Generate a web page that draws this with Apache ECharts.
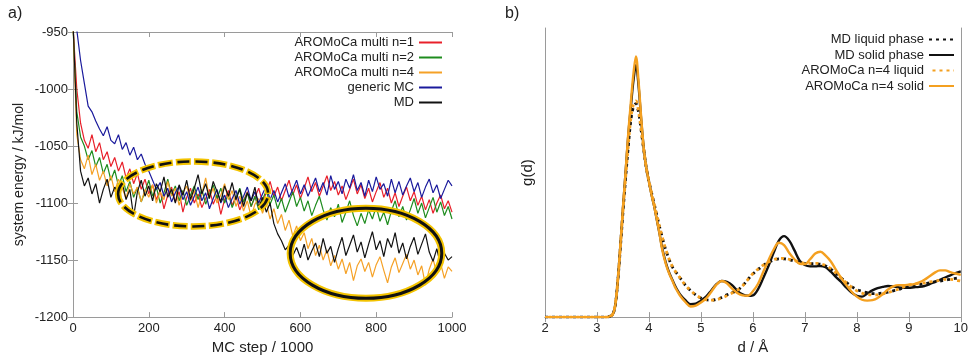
<!DOCTYPE html>
<html><head><meta charset="utf-8">
<script src="https://cdn.jsdelivr.net/npm/echarts@6/dist/echarts.min.js"></script>
<style>html,body{margin:0;padding:0;background:#fff}#c{width:971px;height:360px}</style>
</head><body><div id="c"></div>
<script>
// ---------- panel a) ----------
const mcStep = [0,10,20,30,40,50,60,70,80,90,
100,110,120,130,140,150,160,170,180,190,
200,210,220,230,240,250,260,270,280,290,
300,310,320,330,340,350,360,370,380,390,
400,410,420,430,440,450,460,470,480,490,
500,510,520,530,540,550,560,570,580,590,
600,610,620,630,640,650,660,670,680,690,
700,710,720,730,740,750,760,770,780,790,
800,810,820,830,840,850,860,870,880,890,
900,910,920,930,940,950,960,970,980,990,1000];

const eMulti1 = [-945,-1000,-1030,-1045,-1052,-1040,-1055,-1047,-1062,-1055,
-1068,-1060,-1072,-1064,-1078,-1070,-1083,-1074,-1088,-1079,
-1092,-1084,-1097,-1089,-1105,-1093,-1086,-1099,-1090,-1108,
-1095,-1087,-1100,-1092,-1104,-1096,-1088,-1101,-1093,-1110,
-1097,-1089,-1102,-1094,-1106,-1098,-1090,-1103,-1095,-1087,
-1099,-1091,-1081,-1094,-1086,-1098,-1089,-1080,-1093,-1084,
-1096,-1087,-1077,-1090,-1082,-1094,-1085,-1076,-1089,-1081,
-1093,-1085,-1097,-1088,-1079,-1092,-1084,-1096,-1087,-1099,
-1090,-1082,-1095,-1087,-1100,-1091,-1103,-1094,-1086,-1098,
-1090,-1102,-1094,-1106,-1097,-1109,-1100,-1093,-1105,-1098,-1108];

const eMulti2 = [-945,-1020,-1042,-1050,-1062,-1054,-1068,-1060,-1074,-1066,
-1080,-1071,-1085,-1076,-1090,-1081,-1095,-1086,-1099,-1090,
-1080,-1094,-1086,-1100,-1091,-1079,-1093,-1085,-1098,-1089,
-1102,-1093,-1085,-1097,-1088,-1101,-1092,-1084,-1096,-1087,
-1100,-1092,-1104,-1095,-1087,-1099,-1091,-1103,-1094,-1106,
-1097,-1089,-1101,-1093,-1105,-1096,-1108,-1099,-1090,-1103,
-1095,-1107,-1098,-1111,-1102,-1094,-1106,-1115,-1104,-1112,
-1101,-1117,-1108,-1098,-1111,-1120,-1109,-1118,-1106,-1114,
-1103,-1116,-1108,-1119,-1107,-1098,-1112,-1103,-1115,-1106,
-1096,-1109,-1100,-1113,-1104,-1095,-1108,-1099,-1111,-1103,-1114];

const eMulti4 = [-940,-1040,-1062,-1070,-1058,-1075,-1066,-1080,-1072,-1085,
-1076,-1090,-1079,-1087,-1096,-1083,-1092,-1086,-1099,-1088,
-1095,-1084,-1100,-1090,-1097,-1081,-1094,-1087,-1102,-1091,
-1085,-1098,-1089,-1104,-1092,-1078,-1095,-1087,-1100,-1093,
-1083,-1097,-1089,-1103,-1094,-1107,-1098,-1112,-1101,-1096,
-1109,-1100,-1114,-1105,-1118,-1110,-1124,-1115,-1129,-1120,
-1133,-1126,-1140,-1131,-1146,-1137,-1150,-1141,-1155,-1146,
-1158,-1149,-1162,-1152,-1168,-1155,-1149,-1160,-1152,-1165,
-1154,-1147,-1159,-1170,-1156,-1148,-1161,-1153,-1145,-1158,
-1150,-1163,-1155,-1172,-1158,-1149,-1162,-1153,-1166,-1156,-1160];

const eGenericMC = [-900,-948,-975,-995,-1015,-1020,-1028,-1035,-1041,-1033,
-1045,-1048,-1040,-1053,-1047,-1058,-1051,-1062,-1057,-1066,
-1072,-1080,-1088,-1082,-1094,-1087,-1099,-1091,-1085,-1097,
-1090,-1102,-1094,-1086,-1098,-1091,-1105,-1096,-1088,-1100,
-1093,-1104,-1096,-1089,-1101,-1094,-1086,-1098,-1090,-1100,
-1092,-1085,-1097,-1089,-1099,-1091,-1083,-1095,-1088,-1080,
-1092,-1084,-1094,-1086,-1078,-1090,-1082,-1093,-1076,-1088,
-1081,-1092,-1079,-1087,-1075,-1089,-1082,-1094,-1080,-1090,
-1077,-1088,-1083,-1094,-1079,-1091,-1081,-1093,-1085,-1078,
-1090,-1082,-1095,-1086,-1079,-1091,-1084,-1096,-1088,-1080,-1085];

const eMD = [-940,-1030,-1072,-1085,-1078,-1092,-1083,-1100,-1088,-1079,
-1095,-1086,-1091,-1082,-1097,-1088,-1112,-1090,-1080,-1094,
-1085,-1098,-1083,-1090,-1077,-1095,-1088,-1100,-1084,-1093,
-1080,-1097,-1087,-1075,-1092,-1083,-1096,-1081,-1090,-1099,
-1085,-1094,-1082,-1097,-1088,-1103,-1091,-1098,-1086,-1104,
-1095,-1108,-1100,-1118,-1127,-1133,-1141,-1137,-1146,-1139,
-1148,-1136,-1150,-1142,-1135,-1147,-1131,-1144,-1138,-1152,
-1140,-1130,-1146,-1137,-1128,-1143,-1134,-1148,-1136,-1125,
-1141,-1133,-1147,-1131,-1139,-1126,-1144,-1135,-1149,-1138,
-1130,-1145,-1136,-1127,-1143,-1151,-1140,-1155,-1144,-1150,-1147];

const seriesNamesA = ['AROMoCa multi n=1','AROMoCa multi n=2','AROMoCa multi n=4','generic MC','MD'];
const seriesColorsA = ['#e8202a','#1e8c1e','#f5a126','#1a1a9c','#111111'];
const energyTicks = [-1200,-1150,-1100,-1050,-1000,-950];
const stepTicks = [0,200,400,600,800,1000];

// highlighted regions (ellipses), in data units
const ellipseLiquid = {cx:317, cy:-1092, rx:198, ry:28.5};
const ellipseSolid  = {cx:773, cy:-1144, rx:200, ry:39.5};

// ---------- panel b) ----------
const dist = [2.0,2.1,2.2,2.3,2.4,2.5,2.6,2.7,2.8,2.9,3.0,3.1,3.2,
3.25,3.3,3.35,3.4,3.45,3.5,3.55,3.6,3.65,3.7,3.75,3.8,3.85,3.9,3.95,4.0,
4.05,4.1,4.15,4.2,4.25,4.3,4.35,4.4,4.45,4.5,4.55,4.6,
4.7,4.8,4.9,5.0,5.1,5.2,5.3,5.4,5.5,5.6,5.7,5.8,5.9,6.0,
6.1,6.2,6.3,6.4,6.5,6.6,6.7,6.8,6.9,7.0,7.1,7.2,7.3,7.4,7.5,7.6,7.7,7.8,7.9,8.0,
8.1,8.2,8.3,8.4,8.5,8.6,8.7,8.8,8.9,9.0,9.1,9.2,9.3,9.4,9.5,9.6,9.7,9.8,9.9,10.0];

const gMDLiquid = [0,0,0,0,0,0,0,0,0,0,0,0,0,
0.02,0.05,0.25,0.8,1.55,2.35,3.1,3.8,4.4,4.72,4.8,4.6,4.2,3.75,3.35,3.05,
2.8,2.55,2.3,2.05,1.82,1.6,1.42,1.26,1.13,1.04,0.96,0.88,
0.72,0.6,0.5,0.43,0.39,0.38,0.4,0.44,0.5,0.55,0.6,0.7,0.84,0.97,
1.07,1.16,1.23,1.28,1.31,1.31,1.29,1.26,1.23,1.2,1.2,1.2,1.19,1.15,1.08,0.98,0.88,0.78,0.69,0.62,
0.58,0.55,0.53,0.53,0.54,0.56,0.59,0.62,0.66,0.69,0.71,0.73,0.75,0.77,0.79,0.81,0.83,0.85,0.87,0.88];

const gMDSolid = [0,0,0,0,0,0,0,0,0,0,0,0,0,
0.02,0.05,0.25,0.8,1.6,2.45,3.25,4.05,4.7,5.3,5.67,5.2,4.45,3.8,3.35,3.05,
2.75,2.5,2.2,1.9,1.58,1.33,1.13,0.97,0.84,0.71,0.6,0.51,
0.38,0.29,0.3,0.37,0.46,0.6,0.74,0.81,0.79,0.72,0.59,0.51,0.48,0.49,
0.63,0.88,1.15,1.45,1.72,1.82,1.72,1.5,1.27,1.17,1.14,1.14,1.15,1.12,1.02,0.9,0.79,0.66,0.55,0.48,
0.46,0.53,0.6,0.65,0.68,0.7,0.69,0.67,0.66,0.66,0.67,0.68,0.7,0.74,0.79,0.84,0.89,0.94,0.99,1.03];

const gAroLiquid = [0,0,0,0,0,0,0,0,0,0,0,0,0,
0.02,0.06,0.27,0.82,1.57,2.38,3.12,3.83,4.45,4.78,4.86,4.63,4.22,3.77,3.36,3.06,
2.8,2.55,2.3,2.06,1.83,1.61,1.43,1.27,1.14,1.04,0.96,0.88,
0.72,0.6,0.5,0.43,0.39,0.38,0.39,0.43,0.48,0.54,0.6,0.7,0.84,0.98,
1.08,1.17,1.24,1.29,1.32,1.32,1.3,1.27,1.24,1.21,1.21,1.21,1.2,1.16,1.09,0.99,0.88,0.77,0.67,0.59,
0.54,0.51,0.5,0.5,0.52,0.55,0.59,0.63,0.68,0.72,0.74,0.76,0.77,0.79,0.81,0.83,0.85,0.85,0.83,0.81];

const gAroSolid = [0,0,0,0,0,0,0,0,0,0,0,0,0,
0.02,0.05,0.25,0.8,1.6,2.45,3.25,4.1,4.8,5.45,5.86,5.3,4.5,3.8,3.35,3.05,
2.75,2.5,2.2,1.9,1.55,1.3,1.1,0.95,0.82,0.68,0.58,0.48,
0.34,0.24,0.26,0.33,0.42,0.57,0.73,0.81,0.76,0.64,0.54,0.49,0.48,0.58,
0.75,1.02,1.28,1.52,1.67,1.62,1.44,1.3,1.2,1.19,1.3,1.43,1.47,1.38,1.25,1.06,0.88,0.72,0.57,0.46,
0.39,0.37,0.38,0.43,0.52,0.62,0.69,0.72,0.72,0.73,0.74,0.78,0.84,0.92,1.0,1.05,1.05,1.01,0.98,0.95];

const seriesNamesB = ['MD liquid phase','MD solid phase','AROMoCa n=4 liquid','AROMoCa n=4 solid'];
const distTicks = [2,3,4,5,6,7,8,9,10];

// ---------- build ----------
const FONT = "'Liberation Sans', Arial, sans-serif";
const AX = '#9a9a9a', TXT = '#222';
const energyData = [eMulti1, eMulti2, eMulti4, eGenericMC, eMD];
const gData = [gMDLiquid, gMDSolid, gAroLiquid, gAroSolid];

const pair = (xs, ys) => xs.map((x, i) => [x, ys[i]]);
const plain = v => String(v);

function frameAxis(extra) {
  return Object.assign({
    type: 'value',
    axisLine: {show: true, lineStyle: {color: AX, width: 1}},
    axisTick: {show: true, inside: true, length: 5, lineStyle: {color: AX}},
    axisLabel: {show: false},
    splitLine: {show: false}
  }, extra);
}

const chart = echarts.init(document.getElementById('c'), null, {renderer: 'canvas'});

const seriesA = seriesNamesA.map((n, i) => ({
  name: n, type: 'line', xAxisIndex: 0, yAxisIndex: 0,
  data: pair(mcStep, energyData[i]),
  symbol: 'none', showSymbol: false, color: seriesColorsA[i],
  lineStyle: {width: 1.2, color: seriesColorsA[i]}, animation: false, z: 2 + i
}));

const styleB = [
  {color: '#111', type: [3, 4], width: 2.8, dashOffset: 0},
  {color: '#111', type: 'solid', width: 2.4},
  {color: '#f4a020', type: [3, 4], width: 2.8, dashOffset: 3.5},
  {color: '#f4a020', type: 'solid', width: 2.4}
];
const seriesB = seriesNamesB.map((n, i) => ({
  name: n, type: 'line', xAxisIndex: 2, yAxisIndex: 2,
  data: pair(dist, gData[i]), smooth: 0.35,
  symbol: 'none', showSymbol: false, color: styleB[i].color,
  lineStyle: styleB[i], animation: false, z: 2 + i
}));

const labelStyle = {show: true, color: TXT, fontSize: 13, margin: 5, fontFamily: FONT, formatter: plain};

chart.setOption({
  animation: false,
  textStyle: {fontFamily: FONT},
  grid: [
    {left: 73, right: 519, top: 32, bottom: 41},
    {left: 545, right: 7, top: 28, bottom: 35}
  ],
  xAxis: [
    frameAxis({gridIndex: 0, position: 'bottom', min: stepTicks[0], max: stepTicks[stepTicks.length-1], interval: 200,
      axisLabel: labelStyle,
      name: 'MC step / 1000', nameLocation: 'middle', nameGap: 22,
      nameTextStyle: {fontSize: 15, color: TXT, fontFamily: FONT}}),
    frameAxis({gridIndex: 0, position: 'top', min: 0, max: 1000, interval: 200}),
    frameAxis({gridIndex: 1, position: 'bottom', min: distTicks[0], max: distTicks[distTicks.length-1], interval: 1,
      axisLabel: labelStyle,
      name: 'd / Å', nameLocation: 'middle', nameGap: 22,
      nameTextStyle: {fontSize: 15, color: TXT, fontFamily: FONT}}),
    frameAxis({gridIndex: 1, position: 'top', min: 2, max: 10, interval: 1})
  ],
  yAxis: [
    frameAxis({gridIndex: 0, position: 'left', min: energyTicks[0], max: energyTicks[energyTicks.length-1], interval: 50,
      axisLabel: labelStyle,
      name: 'system energy / kJ/mol', nameLocation: 'middle', nameGap: 47,
      nameTextStyle: {fontSize: 14, color: TXT, fontFamily: FONT}}),
    frameAxis({gridIndex: 0, position: 'right', min: -1200, max: -950, interval: 50}),
    frameAxis({gridIndex: 1, position: 'left', min: 0, max: 6.5, axisTick: {show: false},
      name: 'g(d)', nameLocation: 'middle', nameGap: 10,
      nameTextStyle: {fontSize: 15, color: TXT, fontFamily: FONT}}),
    frameAxis({gridIndex: 1, position: 'right', min: 0, max: 6.5, axisTick: {show: false}})
  ],
  legend: [
    {data: seriesNamesA, orient: 'vertical', right: 528, top: 36, align: 'right',
     itemWidth: 23, itemHeight: 8, itemGap: 2, padding: 0,
     itemStyle: {opacity: 0},
     textStyle: {fontSize: 13, color: TXT, fontFamily: FONT, lineHeight: 12}},
    {data: seriesNamesB, orient: 'vertical', right: 16, top: 33, align: 'right',
     itemWidth: 25, itemHeight: 8, itemGap: 2.5, padding: 0,
     itemStyle: {opacity: 0},
     textStyle: {fontSize: 13, color: TXT, fontFamily: FONT, lineHeight: 12}}
  ],
  series: seriesA.concat(seriesB)
});

function ellipsePx(e) {
  const c = chart.convertToPixel({gridIndex: 0}, [e.cx, e.cy]);
  const r = chart.convertToPixel({gridIndex: 0}, [e.cx + e.rx, e.cy + e.ry]);
  return {cx: c[0], cy: c[1], rx: Math.abs(r[0] - c[0]), ry: Math.abs(c[1] - r[1])};
}
const eL = ellipsePx(ellipseLiquid), eS = ellipsePx(ellipseSolid);
const GOLD = '#f3c300';

chart.setOption({
  graphic: [
    {type: 'text', left: 8, top: 6, style: {text: 'a)', fontSize: 16, fill: TXT, fontFamily: FONT}},
    {type: 'text', left: 505, top: 6, style: {text: 'b)', fontSize: 16, fill: TXT, fontFamily: FONT}},
    {type: 'ellipse', shape: eL, z: 100, silent: true,
     style: {fill: null, stroke: GOLD, lineWidth: 6.5, lineDash: [15, 3], lineDashOffset: 1.5}},
    {type: 'ellipse', shape: eL, z: 101, silent: true,
     style: {fill: null, stroke: '#111', lineWidth: 2.6, lineDash: [12, 6], lineDashOffset: 0}},
    {type: 'ellipse', shape: eS, z: 100, silent: true,
     style: {fill: null, stroke: GOLD, lineWidth: 7}},
    {type: 'ellipse', shape: eS, z: 101, silent: true,
     style: {fill: null, stroke: '#111', lineWidth: 3}}
  ]
});
</script>
</body></html>
